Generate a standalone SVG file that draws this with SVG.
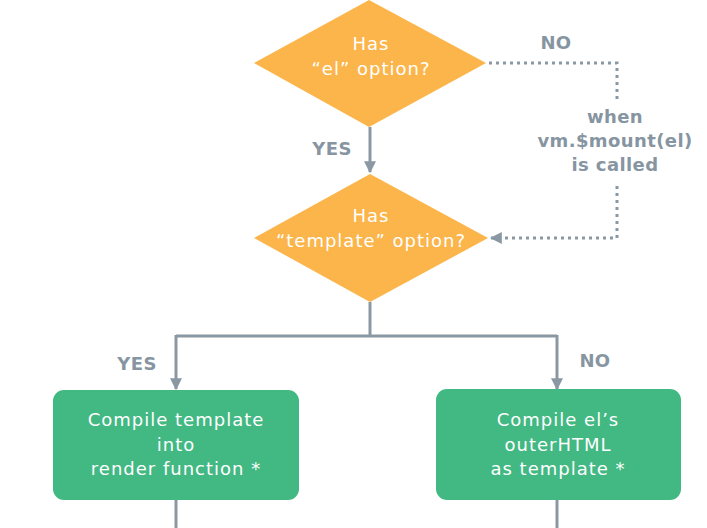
<svg xmlns="http://www.w3.org/2000/svg" width="707" height="528" viewBox="0 0 707 528">
<style>
.dia{fill:#fbb54b}
.box{fill:#42b883}
.nt{font-family:"DejaVu Sans","Open Sans",sans-serif;font-size:18px;letter-spacing:1px;fill:#ffffff;text-anchor:middle}
.lbl{font-family:"DejaVu Sans","Open Sans",sans-serif;font-size:18px;font-weight:bold;letter-spacing:0.4px;fill:#8695a1;text-anchor:middle}
.ln{fill:none;stroke:#8a98a4;stroke-width:3}
.dot{fill:none;stroke:#8a98a4;stroke-width:3;stroke-dasharray:3 4}
</style>
<defs>
<marker id="ah" viewBox="0 0 10 10" refX="9" refY="5" markerWidth="4" markerHeight="4" orient="auto" markerUnits="strokeWidth">
<path d="M0,0 L10,5 L0,10 z" fill="#8a98a4"/>
</marker>
</defs>
<rect width="707" height="528" fill="#ffffff"/>
<g id="connectors">
<path class="ln" d="M370,127 V172" marker-end="url(#ah)"/>
<path class="dot" d="M489,63 H617 V100"/>
<path class="dot" d="M617,186 V238 H491" marker-end="url(#ah)"/>
<path class="ln" d="M370,302 V336"/>
<path class="ln" d="M176,336 H557"/>
<path class="ln" d="M176,335 V389" marker-end="url(#ah)"/>
<path class="ln" d="M557,335 V389" marker-end="url(#ah)"/>
<path class="ln" d="M176,500 V528"/>
<path class="ln" d="M557,500 V528"/>
<text class="lbl" x="332" y="155">YES</text>
<text class="lbl" x="556" y="49">NO</text>
<text class="lbl" x="615" y="123">when</text>
<text class="lbl" x="615" y="147">vm.$mount(el)</text>
<text class="lbl" x="615" y="171">is called</text>
<text class="lbl" x="137" y="370">YES</text>
<text class="lbl" x="595" y="367">NO</text>
</g>
<g id="has-el">
<path class="dia" d="M369,0 L486,63 L369,127 L254,63 Z"/>
<text class="nt" x="371" y="50">Has</text>
<text class="nt" x="371" y="75">“el” option?</text>
</g>
<g id="has-template">
<path class="dia" d="M370,174 L488,238 L370,302 L254,238 Z"/>
<text class="nt" x="371" y="222">Has</text>
<text class="nt" x="371" y="247">“template” option?</text>
</g>
<g id="compile-template">
<rect class="box" x="53" y="390" width="246" height="110" rx="11"/>
<text class="nt" x="176" y="426">Compile template</text>
<text class="nt" x="176" y="451">into</text>
<text class="nt" x="176" y="475">render function *</text>
</g>
<g id="compile-el">
<rect class="box" x="436" y="389" width="245" height="111" rx="11"/>
<text class="nt" x="558" y="426">Compile el’s</text>
<text class="nt" x="558" y="451">outerHTML</text>
<text class="nt" x="558" y="475">as template *</text>
</g>
</svg>
